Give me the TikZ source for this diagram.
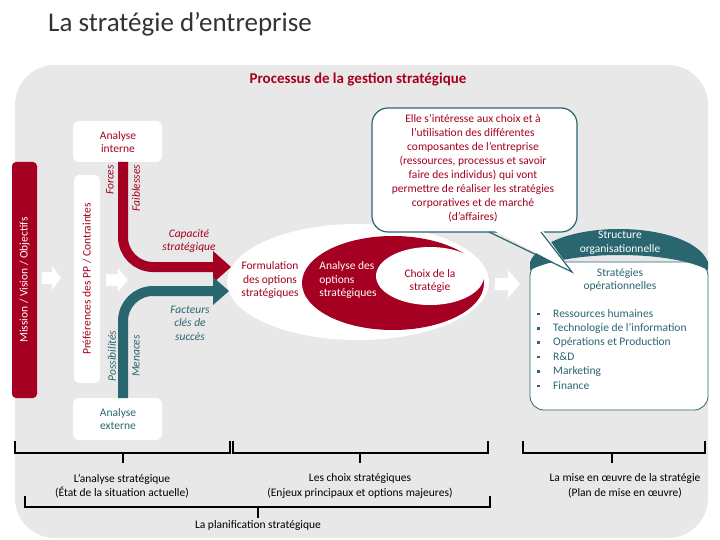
\documentclass[tikz,border=0pt]{standalone}
\usepackage{fontspec}
\setmainfont{Carlito}
\definecolor{rd}{HTML}{A50021}
\definecolor{tl}{HTML}{2A6670}
\definecolor{bg}{HTML}{E8E8E8}
\definecolor{tg}{HTML}{333333}
\newcommand{\sqb}{\makebox[16pt][l]{\raisebox{2pt}{\rule{2.6pt}{2.6pt}}}}
\begin{document}
\begin{tikzpicture}[x=1pt,y=-1pt,
  txt/.style={font=\fontsize{11.5}{13.5}\selectfont,align=center,inner sep=0},
  it/.style={font=\itshape\fontsize{11.5}{13.5}\selectfont},
  wbox/.style={fill=white,rounded corners=6},
  warrow/.style={fill=white},
  brk/.style={line width=1.6,black},
  lab/.style={font=\fontsize{11.5}{14.5}\selectfont,align=center,inner sep=0}]
\useasboundingbox (0,0) rectangle (720,540);
\fill[white] (0,0) rectangle (720,540);
\fill[bg,rounded corners=40] (15,65) rectangle (708,538);
\node[anchor=west,inner sep=0,text=tg,font=\fontsize{27}{30}\selectfont] (title) at (48,24) {La stratégie d’entreprise};
\node[inner sep=0,text=rd,font=\bfseries\fontsize{15}{17}\selectfont] (proc) at (358,79) {Processus de la gestion stratégique};
% mission
\fill[rd,rounded corners=4] (12,162) rectangle (37,398);
\node[txt,text=white,rotate=90] (mis) at (24.5,280) {Mission / Vision / Objectifs};
\fill[warrow] (42,272)--(52,272)--(52,266)--(61,278)--(52,290)--(52,284)--(42,284)--cycle;
\fill[white,rounded corners=5] (74,175) rectangle (100,383);
\node[txt,text=rd,rotate=90] (pref) at (87,279) {Préférences des PP / Contraintes};
\fill[warrow] (106,274)--(118,274)--(118,268)--(128,280)--(118,292)--(118,286)--(106,286)--cycle;
% analyse boxes
\fill[wbox] (73,121) rectangle (162,162);
\node[txt,text=rd] (ai) at (118,142) {Analyse\\interne};
\fill[wbox] (73,398) rectangle (162,440);
\node[txt,text=tl] (ae) at (118,419) {Analyse\\externe};
% ellipses
\fill[white] (358,282) ellipse (131 and 58);
\fill[rd] (393,283) ellipse (91 and 47);
\fill[white] (430,276) ellipse (54 and 29);
\node[txt,text=rd] (form) at (270,280) {Formulation\\des options\\stratégiques};
\node[txt,text=white,align=left] (ana) at (348,280) {Analyse des\\options\\stratégiques};
\node[txt,text=rd] (choix) at (430,281) {Choix de la\\stratégie};
% arrows
\draw[rd,line width=10,rounded corners=30] (123,162) -- (123,267) -- (214,267);
\fill[rd] (213,251)--(231,267)--(213,283)--cycle;
\draw[tl,line width=10,rounded corners=30] (123,398) -- (123,291) -- (214,291);
\fill[tl] (213,277)--(229,291)--(213,305)--cycle;
\node[txt,it,text=rd,rotate=90] (forces) at (110,180) {Forces};
\node[txt,it,text=rd,rotate=90] (faib) at (136,188) {Faiblesses};
\node[txt,it,text=tl,rotate=90] (poss) at (112,356) {Possibilités};
\node[txt,it,text=tl,rotate=90] (men) at (136,356) {Menaces};
\node[txt,it,text=rd] (cap) at (189,241) {Capacité\\stratégique};
\node[txt,it,text=tl] (fcs) at (190,323) {Facteurs\\clés de\\succès};
\fill[warrow] (495,278)--(508,278)--(508,270)--(520,284)--(508,298)--(508,290)--(495,290)--cycle;
% structure
\draw[tl,fill=white,rounded corners=14,line width=0.8] (530,262) rectangle (708,410);
\fill[tl] (530,270) .. controls (570,250) and (670,250) .. (708,270) -- (708,262) .. controls (690,218) and (548,218) .. (530,262) -- cycle;
\node[txt,text=white] (struct) at (620,243) {Structure\\organisationnelle};
\node[txt,text=tl] (strop) at (620,280) {Stratégies\\opérationnelles};
\node[txt,text=tl,align=left,anchor=north west,font=\fontsize{11.5}{14.4}\selectfont] (list) at (537,309) {\sqb Ressources humaines\\\sqb Technologie de l’information\\\sqb Opérations et Production\\\sqb R\&D\\\sqb Marketing\\\sqb Finance};
% callout
\draw[tl,fill=white,rounded corners=16,line width=1.2] (372,108) rectangle (577,232);
\fill[white] (489,228)--(572,272)--(541,228)--cycle;
\draw[tl,line width=1.2] (489,232)--(572,272)--(541,232);
\node[txt,text=rd,font=\fontsize{11.5}{14}\selectfont] (call) at (473,168) {Elle s’intéresse aux choix et à\\l’utilisation des différentes\\composantes de l’entreprise\\(ressources, processus et savoir\\faire des individus) qui vont\\permettre de réaliser les stratégies\\corporatives et de marché\\(d’affaires)};
% brackets
\draw[brk] (15,441)--(15,453)--(230,453)--(230,441) (123,453)--(123,463);
\draw[brk] (233,441)--(233,453)--(488,453)--(488,441) (360,453)--(360,463);
\draw[brk] (523,441)--(523,453)--(705,453)--(705,441) (612,453)--(612,463);
\draw[brk] (25,496)--(25,507)--(490,507)--(490,496) (258,507)--(258,518);
\node[lab] (b1) at (122,486) {L’analyse stratégique\\(État de la situation actuelle)};
\node[lab] (b2) at (360,486) {Les choix stratégiques\\(Enjeux principaux et options majeures)};
\node[lab] (b3) at (625,486) {La mise en œuvre de la stratégie\\(Plan de mise en œuvre)};
\node[lab] (b4) at (258,525) {La planification stratégique};
\end{tikzpicture}
\end{document}
